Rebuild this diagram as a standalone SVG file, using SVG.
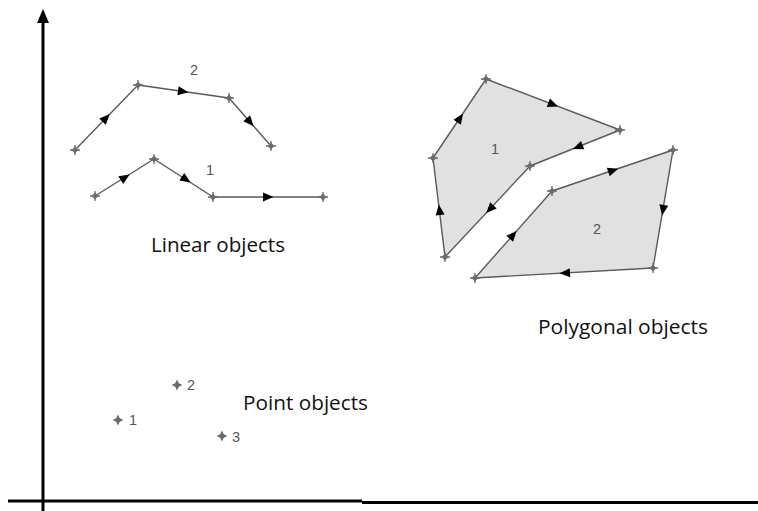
<svg xmlns="http://www.w3.org/2000/svg" xmlns:xlink="http://www.w3.org/1999/xlink" width="758" height="511" viewBox="0 0 758 511">
<style>
.axis{stroke:#000;stroke-width:3;fill:none}
.edge{stroke:#5a5a5a;stroke-width:1.4;fill:none;stroke-linejoin:round}
.poly{stroke:#5a5a5a;stroke-width:1.4;fill:#e1e1e1;stroke-linejoin:round}
.vx{stroke:#6a6a6a;stroke-width:1.3;fill:none}
.pt{fill:#6a6a6a}
.num{font-family:"Liberation Sans",Arial,sans-serif;font-size:14.5px;fill:#555}
.cap{font-family:"Open Sans","Liberation Sans",sans-serif;font-size:20.5px;fill:#111}
</style>
<defs>
<path id="ah" d="M5.5,0 L-5,-4.5 L-5,4.5 Z" fill="#000"/>
<g id="vx" class="vx"><path d="M-5,0 H5 M0,-5 V5"/><path d="M0,-2.5 L2.5,0 L0,2.5 L-2.5,0 Z"/></g>
<path id="pt" class="pt" d="M0,-5.5 L1.8,-1.8 L5.5,0 L1.8,1.8 L0,5.5 L-1.8,1.8 L-5.5,0 L-1.8,-1.8 Z"/>
</defs>
<rect width="758" height="511" fill="#fff"/>

<g id="axes">
<path class="axis" d="M43,20 V511"/>
<path d="M43,9 L49,23 L37,23 Z" fill="#000"/>
<path class="axis" d="M8,501 H362"/>
<path class="axis" d="M362,502.5 H758"/>
</g>

<g id="connectors">
<polyline class="edge" points="75,150 138,85 229,98 271,146"/>
<polyline class="edge" points="95,196 154,159 213,197 323,197"/>
<use xlink:href="#ah" href="#ah" transform="translate(106,118) rotate(-45.9)"/>
<use xlink:href="#ah" href="#ah" transform="translate(183,91.5) rotate(8.1)"/>
<use xlink:href="#ah" href="#ah" transform="translate(250,122) rotate(48.8)"/>
<use xlink:href="#ah" href="#ah" transform="translate(125,177.5) rotate(-32.1)"/>
<use xlink:href="#ah" href="#ah" transform="translate(186,179.5) rotate(32.8)"/>
<use xlink:href="#ah" href="#ah" transform="translate(268,197) rotate(0)"/>
</g>

<g id="line2">
<use xlink:href="#vx" href="#vx" x="75" y="150"/>
<use xlink:href="#vx" href="#vx" x="138" y="85"/>
<use xlink:href="#vx" href="#vx" x="229" y="98"/>
<use xlink:href="#vx" href="#vx" x="271" y="146"/>
<text class="num" x="194" y="75" text-anchor="middle">2</text>
</g>
<g id="line1">
<use xlink:href="#vx" href="#vx" x="95" y="196"/>
<use xlink:href="#vx" href="#vx" x="154" y="159"/>
<use xlink:href="#vx" href="#vx" x="213" y="197"/>
<use xlink:href="#vx" href="#vx" x="323" y="197"/>
<text class="num" x="210" y="175" text-anchor="middle">1</text>
</g>
<g id="linear-label"><text class="cap" x="151" y="252" textLength="134" lengthAdjust="spacingAndGlyphs">Linear objects</text></g>

<g id="polygon1">
<polygon class="poly" points="486,79 620,130 530,166 445,257 433,158"/>
<use xlink:href="#ah" href="#ah" transform="translate(553,104.5) rotate(20.8)"/>
<use xlink:href="#ah" href="#ah" transform="translate(578,147) rotate(158.2)"/>
<use xlink:href="#ah" href="#ah" transform="translate(490,209) rotate(133)"/>
<use xlink:href="#ah" href="#ah" transform="translate(439.5,210) rotate(-96.9)"/>
<use xlink:href="#ah" href="#ah" transform="translate(460,118) rotate(-56.1)"/>
<use xlink:href="#vx" href="#vx" x="486" y="79"/>
<use xlink:href="#vx" href="#vx" x="620" y="130"/>
<use xlink:href="#vx" href="#vx" x="530" y="166"/>
<use xlink:href="#vx" href="#vx" x="445" y="257"/>
<use xlink:href="#vx" href="#vx" x="433" y="158"/>
<text class="num" x="495" y="154" text-anchor="middle">1</text>
</g>

<g id="polygon2">
<polygon class="poly" points="552,191 673,150 653,268 475,278"/>
<use xlink:href="#ah" href="#ah" transform="translate(613,170.5) rotate(-18.7)"/>
<use xlink:href="#ah" href="#ah" transform="translate(663,210) rotate(99.6)"/>
<use xlink:href="#ah" href="#ah" transform="translate(565,273) rotate(176.8)"/>
<use xlink:href="#ah" href="#ah" transform="translate(513,235) rotate(-48.5)"/>
<use xlink:href="#vx" href="#vx" x="552" y="191"/>
<use xlink:href="#vx" href="#vx" x="673" y="150"/>
<use xlink:href="#vx" href="#vx" x="653" y="268"/>
<use xlink:href="#vx" href="#vx" x="475" y="278"/>
<text class="num" x="597" y="234" text-anchor="middle">2</text>
</g>
<g id="polygon-label"><text class="cap" x="538" y="334" textLength="170" lengthAdjust="spacingAndGlyphs">Polygonal objects</text></g>

<g id="point1"><use xlink:href="#pt" href="#pt" x="118" y="420"/><text class="num" x="129" y="425">1</text></g>
<g id="point2"><use xlink:href="#pt" href="#pt" x="177" y="385"/><text class="num" x="187" y="390">2</text></g>
<g id="point3"><use xlink:href="#pt" href="#pt" x="222" y="436"/><text class="num" x="232" y="442">3</text></g>
<g id="point-label"><text class="cap" x="243" y="410" textLength="125" lengthAdjust="spacingAndGlyphs">Point objects</text></g>
</svg>
